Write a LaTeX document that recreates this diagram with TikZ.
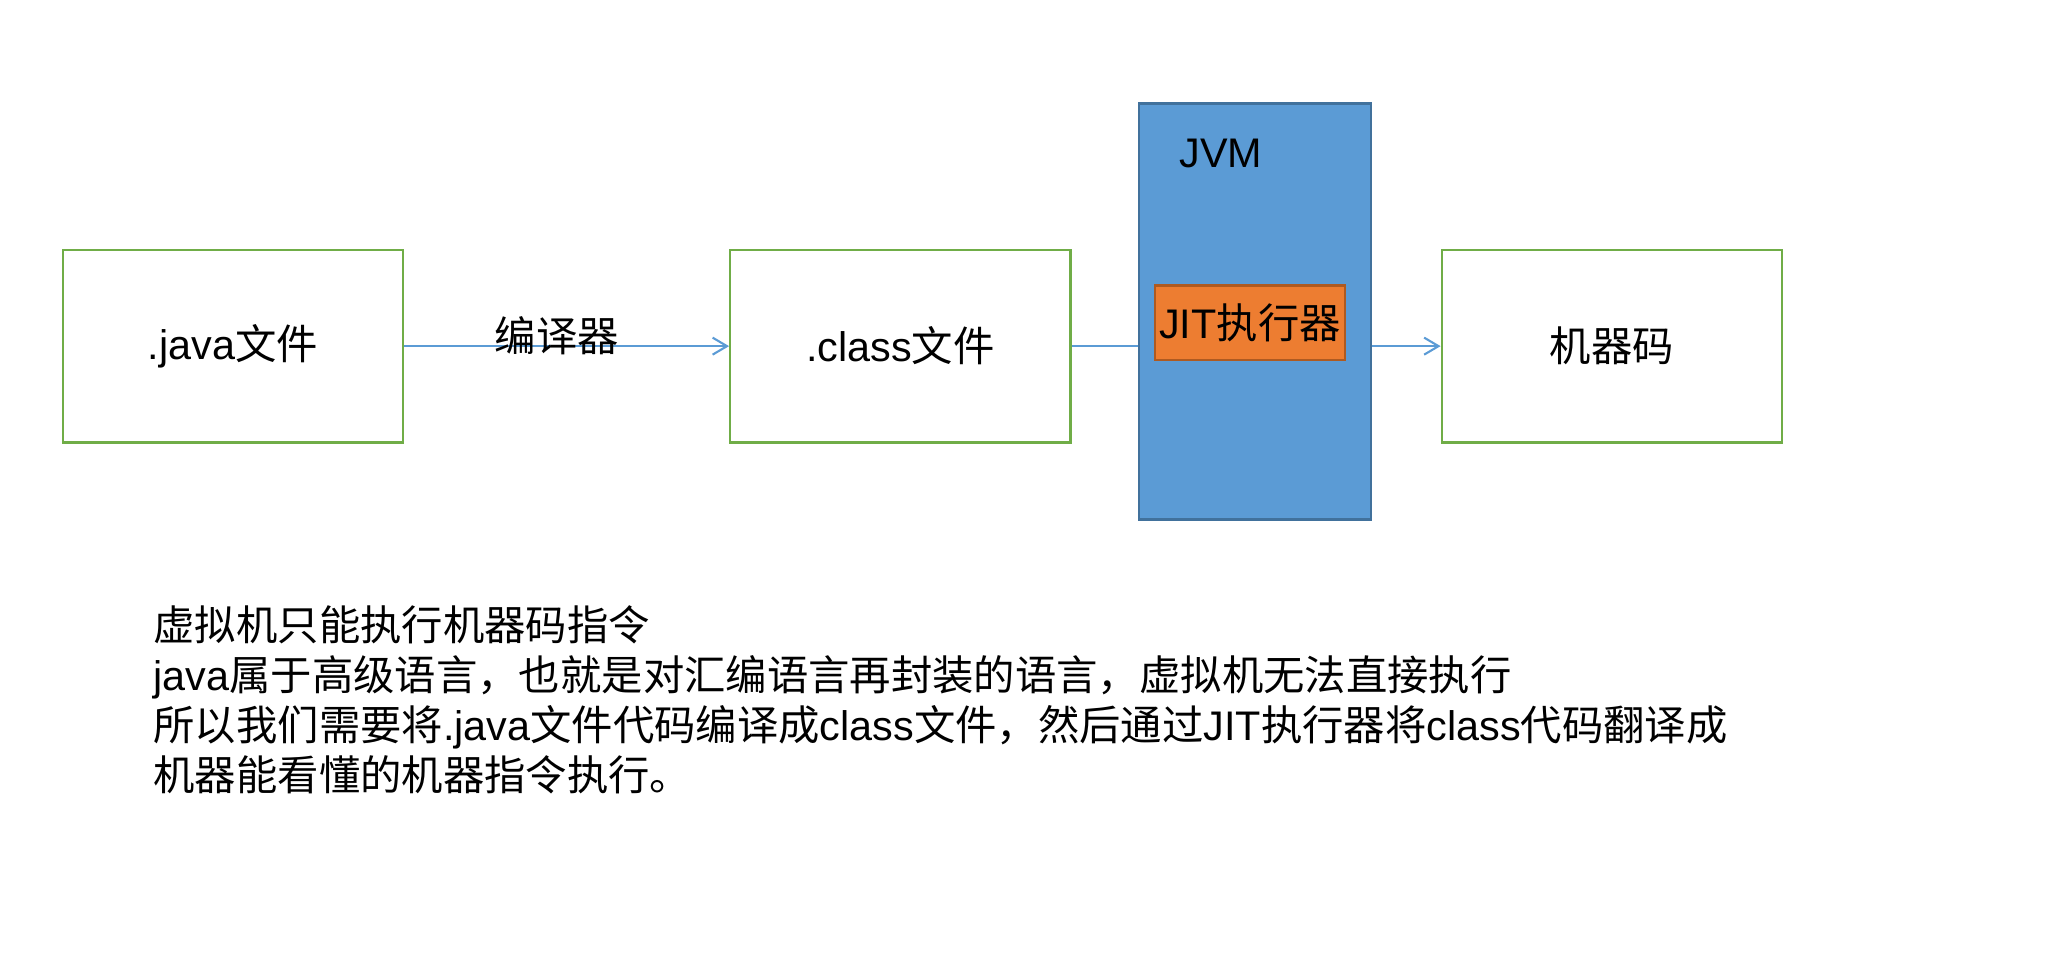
\documentclass[tikz,border=0pt]{standalone}
\usepackage{fontspec}
\setmainfont{Liberation Sans}
\newfontfamily\cjk{Noto Sans CJK SC}
\usetikzlibrary{arrows.meta}
\definecolor{boxgreen}{HTML}{70AD47}
\definecolor{jvmblue}{HTML}{5B9BD5}
\definecolor{jvmedge}{HTML}{41719C}
\definecolor{jitorange}{HTML}{ED7D31}
\definecolor{jitedge}{HTML}{AE5A21}
\begin{document}
\begin{tikzpicture}[
   x=0.5pt, y=-0.5pt,
   every node/.style={font=\fontsize{15.8}{19.2}\selectfont},
   box/.style={rectangle, draw=boxgreen, line width=0.9pt, minimum width=130pt, minimum height=73.5pt},
   link/.style={draw=jvmblue, line width=0.8pt},
   arrow/.style={link, -{Straight Barb[length=5.5pt, width=6.5pt]}}
]
\useasboundingbox (0,0) rectangle (1568,732);

% Files
\node[box] (java) at (178,264.5) {.java{\cjk 文件}};
\node[box] (class) at (688,264.5) {.class{\cjk 文件}};
\node[box] (code) at (1231.7,264.5) {\cjk 机器码};

% JVM
\node[rectangle, draw=jvmedge, fill=jvmblue, line width=0.9pt, minimum width=88.5pt, minimum height=159pt] (jvm) at (959,238) {};
\node (jvmlabel) at (933,117) {JVM};
\node[rectangle, draw=jitedge, fill=jitorange, line width=0.9pt, minimum width=72.5pt, minimum height=28.5pt, inner sep=0pt] (jit) at (955.2,246.7) {JIT{\cjk 执行器}};

% Arrows
\draw[arrow] (java.east) -- (class.west) node[pos=0.47, yshift=4pt] (compiler) {\cjk 编译器};
\draw[link] (class.east) -- (class.east -| jvm.west);
\draw[arrow] (jvm.east |- code.west) -- (code.west);

% Notes
\node[anchor=north west, align=left, inner sep=0pt] (note) at (117,462) {%
{\cjk 虚拟机只能执行机器码指令}\\
java{\cjk 属于高级语言，也就是对汇编语言再封装的语言，虚拟机无法直接执行}\\
{\cjk 所以我们需要将}.java{\cjk 文件代码编译成}class{\cjk 文件，然后通过}JIT{\cjk 执行器将}class{\cjk 代码翻译成}\\
{\cjk 机器能看懂的机器指令执行。}};

\end{tikzpicture}
\end{document}
